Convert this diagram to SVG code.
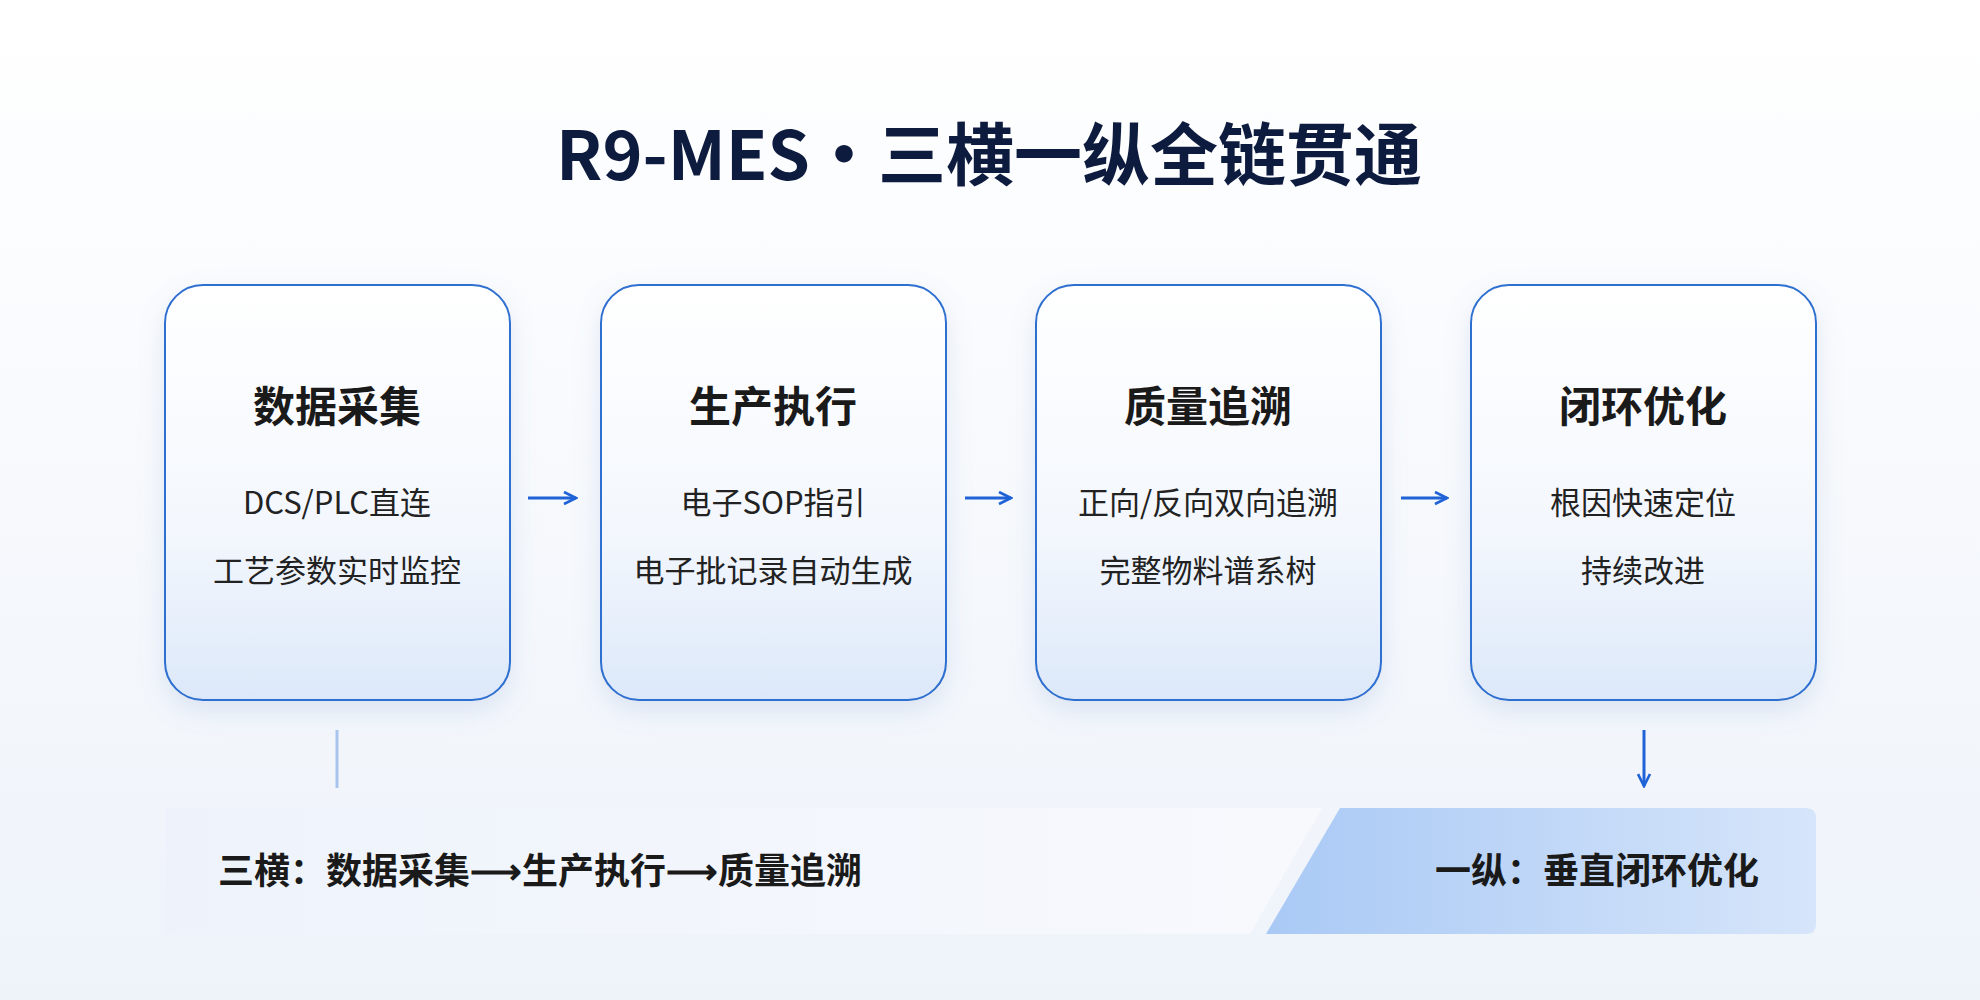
<svg xmlns="http://www.w3.org/2000/svg" width="1980" height="1000" viewBox="0 0 1980 1000">
<defs>
<linearGradient id="bg" x1="0" y1="0" x2="0" y2="1"><stop offset="0" stop-color="#ffffff"/><stop offset="1" stop-color="#eef3fa"/></linearGradient>
<linearGradient id="card" x1="0" y1="0" x2="0" y2="1"><stop offset="0" stop-color="#ffffff"/><stop offset="0.6" stop-color="#f3f7fd"/><stop offset="1" stop-color="#dce8f9"/></linearGradient>
<linearGradient id="barL" x1="0" y1="0" x2="1" y2="0"><stop offset="0" stop-color="#eef3fb"/><stop offset="1" stop-color="#f7f9fd"/></linearGradient>
<linearGradient id="barR" x1="0" y1="0" x2="1" y2="0"><stop offset="0" stop-color="#a9c9f5"/><stop offset="1" stop-color="#d6e5fa"/></linearGradient>
<marker id="ah" viewBox="0 0 10 10" refX="9" refY="5" markerWidth="5" markerHeight="5" orient="auto"><path d="M1,1 L9,5 L1,9" fill="none" stroke="#1f63d6" stroke-width="1.8"/></marker>
<filter id="sh" x="-20%" y="-20%" width="140%" height="150%"><feDropShadow dx="0" dy="10" stdDeviation="12" flood-color="#6a8fc8" flood-opacity="0.18"/></filter>
</defs>
<style>
.card{fill:url(#card);stroke:#2f6fd0;stroke-width:2;filter:url(#sh)}
.h{font-family:"Noto Sans CJK SC",sans-serif;font-weight:700;font-size:42px;fill:#1a1a1a;text-anchor:middle}
.t{font-family:"Noto Sans CJK SC",sans-serif;font-size:31px;fill:#222;text-anchor:middle}
.b{font-family:"Noto Sans CJK SC",sans-serif;font-weight:700;font-size:36px;fill:#1a1a1a}
.ar{stroke:#1f63d6;stroke-width:3;fill:none;marker-end:url(#ah)}
</style>
<rect width="1980" height="1000" fill="url(#bg)"/>
<text x="989" y="180" font-family="Noto Sans CJK SC, sans-serif" font-weight="700" font-size="68" fill="#0d1b3e" text-anchor="middle">R9-MES·三横一纵全链贯通</text>
<g id="n1"><rect class="card" x="165" y="285" width="345" height="415" rx="38"/><text class="h" x="337" y="422">数据采集</text><text class="t" x="337" y="514">DCS/PLC直连</text><text class="t" x="337" y="582">工艺参数实时监控</text></g>
<g id="n2"><rect class="card" x="601" y="285" width="345" height="415" rx="38"/><text class="h" x="773" y="422">生产执行</text><text class="t" x="773" y="514">电子SOP指引</text><text class="t" x="773" y="582">电子批记录自动生成</text></g>
<g id="n3"><rect class="card" x="1036" y="285" width="345" height="415" rx="38"/><text class="h" x="1208" y="422">质量追溯</text><text class="t" x="1208" y="514">正向/反向双向追溯</text><text class="t" x="1208" y="582">完整物料谱系树</text></g>
<g id="n4"><rect class="card" x="1471" y="285" width="345" height="415" rx="38"/><text class="h" x="1643" y="422">闭环优化</text><text class="t" x="1643" y="514">根因快速定位</text><text class="t" x="1643" y="582">持续改进</text></g>
<g id="bar">
<path d="M165,808 L1322,808 L1250,934 L165,934 Z" fill="url(#barL)"/>
<path d="M1340,808 L1806,808 Q1816,808 1816,818 L1816,924 Q1816,934 1806,934 L1266,934 Z" fill="url(#barR)"/>
<text class="b" x="218" y="884">三横：数据采集⟶生产执行⟶质量追溯</text>
<text class="b" x="1759" y="884" text-anchor="end">一纵：垂直闭环优化</text>
</g>
<g id="connectors">
<line class="ar" x1="528" y1="498" x2="576" y2="498"/>
<line class="ar" x1="965" y1="498" x2="1011" y2="498"/>
<line class="ar" x1="1401" y1="498" x2="1447" y2="498"/>
<line x1="337" y1="730" x2="337" y2="788" stroke="#a9c4ec" stroke-width="3"/>
<line class="ar" x1="1644" y1="730" x2="1644" y2="786"/>
</g>
</svg>
